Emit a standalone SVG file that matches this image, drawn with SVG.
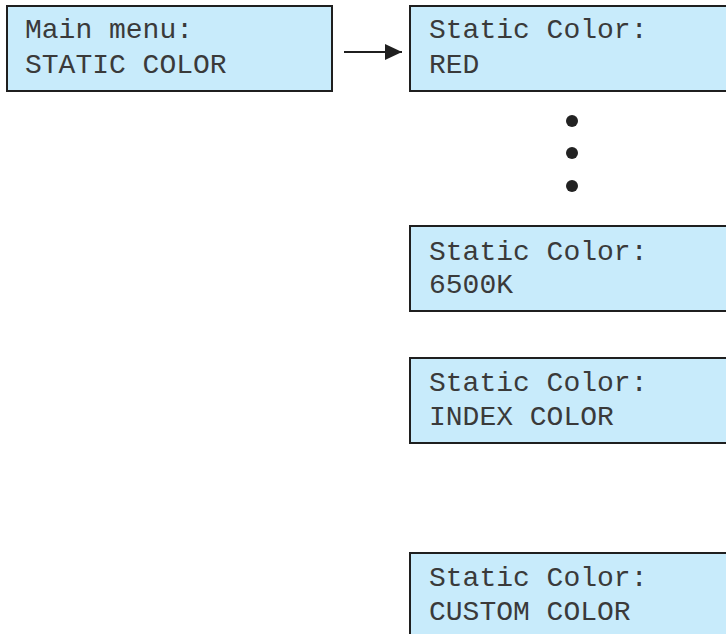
<svg xmlns="http://www.w3.org/2000/svg" width="726" height="634" viewBox="0 0 726 634">
<defs>
<style>
.lcd{fill:#c8ebfb;stroke:#1f1f1f;stroke-width:2}
.t{font-family:"Liberation Mono","Courier New",monospace;font-size:28px;fill:#3a3a3a}
.conn{stroke:#1f1f1f;stroke-width:2.2;fill:none}
.dot{fill:#222}
</style>
<marker id="ah" markerWidth="17" markerHeight="16" refX="17" refY="8" orient="auto" markerUnits="userSpaceOnUse">
<path d="M0,0 L17,8 L0,16 Z" fill="#1f1f1f"/>
</marker>
</defs>
<rect width="726" height="634" fill="#ffffff"/>
<g id="main-menu">
<rect class="lcd" x="7" y="6" width="325" height="85"/>
<text class="t" x="25" y="38">Main menu:</text>
<text class="t" x="25" y="73">STATIC COLOR</text>
</g>
<g id="static-red">
<rect class="lcd" x="410" y="6" width="330" height="85"/>
<text class="t" x="429" y="38">Static Color:</text>
<text class="t" x="429" y="73">RED</text>
</g>
<g id="ellipsis">
<circle class="dot" cx="572" cy="121" r="6"/>
<circle class="dot" cx="572" cy="153" r="6"/>
<circle class="dot" cx="572" cy="186" r="6"/>
</g>
<g id="static-6500k">
<rect class="lcd" x="410" y="226" width="330" height="85"/>
<text class="t" x="429" y="260">Static Color:</text>
<text class="t" x="429" y="293">6500K</text>
</g>
<g id="static-index">
<rect class="lcd" x="410" y="358" width="330" height="85"/>
<text class="t" x="429" y="391">Static Color:</text>
<text class="t" x="429" y="425">INDEX COLOR</text>
</g>
<g id="static-custom">
<rect class="lcd" x="410" y="553" width="330" height="90"/>
<text class="t" x="429" y="586">Static Color:</text>
<text class="t" x="429" y="620">CUSTOM COLOR</text>
</g>
<g id="connectors">
<line class="conn" x1="344" y1="52" x2="402" y2="52" marker-end="url(#ah)"/>
</g>
</svg>
